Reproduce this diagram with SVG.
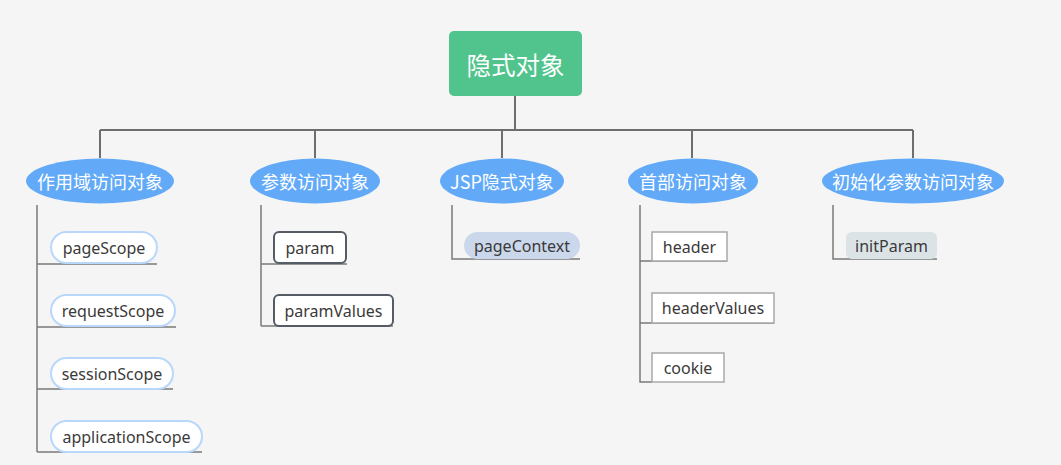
<svg xmlns="http://www.w3.org/2000/svg" width="1061" height="465" viewBox="0 0 1061 465">
<style>
.cn{font-family:"Noto Sans CJK SC","Noto Sans",sans-serif;fill:#fff;text-anchor:middle;dominant-baseline:central}
.en{font-family:"Noto Sans","Open Sans",sans-serif;font-size:16px;fill:#3a3a3a;text-anchor:middle;dominant-baseline:central}
.main{fill:#62aaf8}
.conn{stroke:#6e6e6e;stroke-width:2;fill:none}
.sub{stroke:#7a7a7a;stroke-width:1.5;fill:none}
.pill{fill:#fff;stroke:#b9d7fb;stroke-width:2}
.box{fill:#fff;stroke:#555c66;stroke-width:2}
.sq{fill:#fff;stroke:#a8a8a8;stroke-width:1.5}
</style>
<rect width="1061" height="465" fill="#f5f5f5"/>
<g id="connectors">
<path class="conn" d="M515 96V130M100 130H913M100 130V158M315 130V158M502 130V158M692 130V158M913 130V158"/>
<path class="sub" d="M37 205V452M37 264H157M37 327H176M37 389H173M37 452H202"/>
<path class="sub" d="M261 205V326M261 264H347M261 326H393"/>
<path class="sub" d="M452 205V259H580"/>
<path class="sub" d="M640 205V382H652M640 261H727M640 323H774"/>
<path class="sub" d="M833 205V259H937"/>
</g>
<g id="root">
<rect x="449" y="31" width="133" height="65" rx="5" fill="#50c48c"/>
<text class="cn" x="515.5" y="64" font-size="24.5">隐式对象</text>
</g>
<g id="scope">
<ellipse class="main" cx="100" cy="181" rx="74" ry="22.5"/>
<text class="cn" x="100" y="181" font-size="18">作用域访问对象</text>
</g>
<g id="paramAccess">
<ellipse class="main" cx="315" cy="181" rx="65" ry="22.5"/>
<text class="cn" x="315" y="181" font-size="18">参数访问对象</text>
</g>
<g id="jsp">
<ellipse class="main" cx="502" cy="181" rx="62" ry="22.5"/>
<text class="cn" x="502" y="181" font-size="18">JSP隐式对象</text>
</g>
<g id="headerAccess">
<ellipse class="main" cx="693" cy="181" rx="65" ry="22.5"/>
<text class="cn" x="693" y="181" font-size="18">首部访问对象</text>
</g>
<g id="initAccess">
<ellipse class="main" cx="913" cy="181" rx="91" ry="22.5"/>
<text class="cn" x="913" y="181" font-size="18">初始化参数访问对象</text>
</g>
<g id="pageScope"><rect class="pill" x="51" y="232" width="106" height="31" rx="15.5"/><text class="en" x="104" y="247.5">pageScope</text></g>
<g id="requestScope"><rect class="pill" x="51" y="295" width="124" height="31" rx="15.5"/><text class="en" x="113" y="310.5">requestScope</text></g>
<g id="sessionScope"><rect class="pill" x="51" y="358" width="122" height="31" rx="15.5"/><text class="en" x="112" y="373.5">sessionScope</text></g>
<g id="applicationScope"><rect class="pill" x="51" y="421" width="151" height="31" rx="15.5"/><text class="en" x="126.5" y="436.5">applicationScope</text></g>
<g id="param"><rect class="box" x="274" y="232" width="72" height="31" rx="5"/><text class="en" x="310" y="247.5">param</text></g>
<g id="paramValues"><rect class="box" x="274" y="295" width="119" height="31" rx="5"/><text class="en" x="333.5" y="310.5">paramValues</text></g>
<g id="pageContext"><rect x="464" y="232" width="116" height="27" rx="13.5" fill="#cbd7ea"/><text class="en" x="522" y="245.5" fill="#2a2a2a">pageContext</text></g>
<g id="header"><rect class="sq" x="652" y="232" width="75" height="29"/><text class="en" x="689.5" y="246.5">header</text></g>
<g id="headerValues"><rect class="sq" x="652" y="293" width="122" height="30"/><text class="en" x="713" y="308">headerValues</text></g>
<g id="cookie"><rect class="sq" x="652" y="353" width="72" height="29"/><text class="en" x="688" y="367.5">cookie</text></g>
<g id="initParam"><rect x="846" y="232" width="91" height="27" rx="6" fill="#dce3e6"/><text class="en" x="891.5" y="245.5">initParam</text></g>
</svg>
